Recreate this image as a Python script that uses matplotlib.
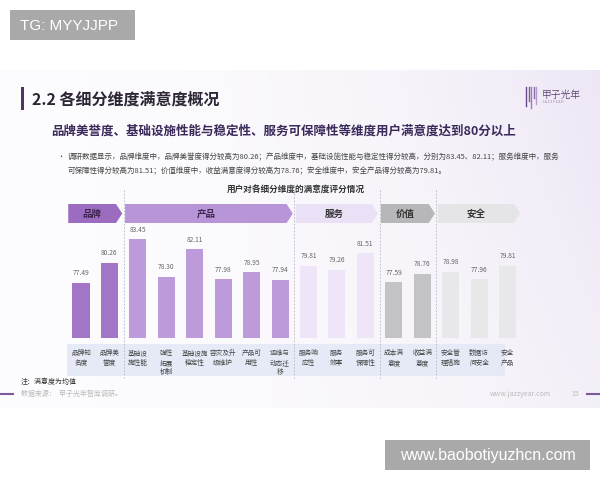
import matplotlib
matplotlib.use('Agg')
import matplotlib.pyplot as plt
import numpy as np
from matplotlib.patches import Polygon, Rectangle
from matplotlib.transforms import blended_transform_factory

plt.rcParams['font.family'] = ['Noto Sans CJK SC', 'DejaVu Sans']

# ---------------- data ----------------
groups = ['品牌', '产品', '服务', '价值', '安全']
group_sizes = [2, 6, 3, 2, 3]
categories = ['品牌知\n名度', '品牌美\n誉度', '基础设\n施性能', '弹性\n拓展\n机制', '基础设施\n稳定性',
              '容灾及升\n级维护', '产品可\n用性', '运维与\n动态迁\n移', '服务响\n应性', '服务\n效率',
              '服务可\n保障性', '成本满\n意度', '收益满\n意度', '安全管\n理措施', '数据访\n问安全', '安全\n产品']
values = [77.49, 80.26, 83.45, 78.30, 82.11, 77.98, 78.95, 77.94,
          79.81, 79.26, 81.51, 77.59, 78.76, 78.98, 77.96, 79.81]

title = '2.2 各细分维度满意度概况'
subtitle = '品牌美誉度、基础设施性能与稳定性、服务可保障性等维度用户满意度达到80分以上'
bullet1 = '调研数据显示，品牌维度中，品牌美誉度得分较高为80.26；产品维度中，基础设施性能与稳定性得分较高，分别为83.45、82.11；服务维度中，服务'
bullet2 = '可保障性得分较高为81.51；价值维度中，收益满意度得分较高为78.76；安全维度中，安全产品得分较高为79.81。'
chart_title = '用户对各细分维度的满意度评分情况'

# ---------------- styles ----------------
bar_colors = ['#a375c6', '#bd9bdb', '#eee6f8', '#c3c3c5', '#e8e8ea']
header_colors = ['#9b6cc0', '#b795d7', '#eae1f6', '#b7b7b9', '#e5e5e7']
header_text = ['#40264f', '#40264f', '#333333', '#333333', '#333333']

W, H = 600, 480
fig = plt.figure(figsize=(6, 4.8), dpi=100)
fig.patch.set_facecolor('white')

bg = fig.add_axes([0, 0, 1, 1])
bg.axis('off')

# slide background gradient
nx, ny = 240, 120
gx = np.linspace(0, 1, nx)
gy = np.linspace(0, 1, ny)
X, Y = np.meshgrid(gx, gy)
t = np.clip(0.75 * X ** 2.5 * (1 - 0.5 * Y) + 0.15 * X, 0, 1)
c0 = np.array([0.99, 0.988, 0.995])
c1 = np.array([0.925, 0.895, 0.955])
img = c0 + (c1 - c0) * t[..., None]
bg.imshow(img, extent=(0, 600, 408, 70), aspect='auto', zorder=0, interpolation='bilinear')
bg.set_xlim(0, W)
bg.set_ylim(H, 0)

# ---------------- bar axes ----------------
x0_px, w_px, base_px, h_px = 66.8, 454.9, 337.5, 116.8
ax = fig.add_axes([x0_px / W, (H - base_px) / H, w_px / W, h_px / H])
ax.patch.set_alpha(0)
n = len(values)
xi = np.arange(n)
cols = np.repeat(bar_colors, group_sizes)
bars = ax.bar(xi, values, width=0.6, color=cols, zorder=3)
ax.set_xlim(-0.5, n - 0.5)
ax.set_ylim(70, 86)
for s in ax.spines.values():
    s.set_visible(False)
ax.set_yticks([])
ax.set_xticks(xi)
ax.set_xticklabels(categories, fontsize=4.8, color='#444444', linespacing=1.25)
ax.tick_params(axis='x', length=0, pad=8.5)
ax.bar_label(bars, labels=[f'{v:.2f}' for v in values], padding=4, fontsize=4.8, color='#666666')

trans = blended_transform_factory(ax.transData, bg.transData)

# label band
bg.add_patch(Rectangle((-0.5, 344), n - 0.6, 32, transform=trans, facecolor='#e4e9f6',
                       edgecolor='none', alpha=0.9, zorder=1))

# header arrows and separators
starts = np.concatenate([[0], np.cumsum(group_sizes)[:-1]])
tip = 0.22
for g, (s, k) in enumerate(zip(starts, group_sizes)):
    xs = s - 0.45
    xe = s + k - 1 + 0.45
    pts = [(xs, 204), (xe - tip, 204), (xe, 213.5), (xe - tip, 223), (xs, 223)]
    bg.add_patch(Polygon(pts, closed=True, transform=trans, facecolor=header_colors[g],
                         edgecolor='none', zorder=2))
    bg.text((xs + xe - tip) / 2, 213.5, groups[g], transform=trans, ha='center', va='center',
            fontsize=6.8, fontweight='bold', color=header_text[g], zorder=3)
    if s > 0:
        bg.plot([s - 0.5, s - 0.5], [190, 378], transform=trans, color='#b5b5c5', lw=0.6,
                linestyle=(0, (2, 2)), zorder=1)

# ---------------- texts ----------------
# TG box
bg.add_patch(Rectangle((10, 10), 125, 30, facecolor='#a9a9a9', edgecolor='none', zorder=5))
bg.text(20, 25.5, 'TG: MYYJJPP', fontsize=11, color='white', va='center', ha='left',
        family=['Liberation Sans', 'DejaVu Sans'], zorder=6)
# bottom box
bg.add_patch(Rectangle((385, 440), 205, 30, facecolor='#a9a9a9', edgecolor='none', zorder=5))
bg.text(487.5, 455.5, 'www.baobotiyuzhcn.com', fontsize=11.5, color='white', va='center',
        ha='center', family=['Liberation Sans', 'DejaVu Sans'], zorder=6)

# title
bg.add_patch(Rectangle((21, 87), 3, 23, facecolor='#4e3566', edgecolor='none', zorder=4))
bg.text(31.5, 99.5, title, fontsize=11.5, color='#2d2535', va='center', ha='left',
        fontweight='bold', zorder=4)
bg.text(284, 131.5, subtitle, fontsize=9, color='#3b2a5a', va='center', ha='center',
        fontweight='bold', zorder=4)
bg.text(57, 157, '•', fontsize=5, color='#444444', va='center', ha='left', zorder=4)
bg.text(67.7, 157, bullet1, fontsize=5.4, color='#444444', va='center', ha='left', zorder=4)
bg.text(67.7, 171, bullet2, fontsize=5.4, color='#444444', va='center', ha='left', zorder=4)
bg.text(296, 189, chart_title, fontsize=6.2, color='#333333', va='center', ha='center',
        fontweight='bold', zorder=4)

# logo
for i, (yy, c) in enumerate(zip([106, 101, 108, 98, 104], ['#6b4a8a', '#7d5a9c', '#9b7bb8', '#8a6aa8', '#b39ccc'])):
    xx = 526 + i * 2.6
    bg.plot([xx, xx], [87, yy], color=c, lw=1.0, zorder=4)
bg.text(542, 94.5, '甲子光年', fontsize=7, color='#5a3f73', va='center', ha='left',
        family=['Noto Serif CJK SC', 'Noto Sans CJK SC', 'DejaVu Sans'], zorder=4)
bg.text(542, 102, 'J A Z Z Y E A R', fontsize=2.5, color='#9a88ad', va='center', ha='left', zorder=4)

# footer
bg.text(20.7, 382.3, '注：满意度为均值', fontsize=5, color='#333333', va='center', ha='left', zorder=4)
bg.text(20.7, 394.3, '数据来源：  甲子光年智库调研。', fontsize=5, color='#bbbbbb', va='center', ha='left', zorder=4)
bg.plot([0, 12.7], [393.5, 393.5], color='#7a5a9a', lw=1.5, zorder=4)
bg.text(490, 394.3, 'www.jazzyear.com', fontsize=5, color='#bbbbbb', va='center', ha='left', zorder=4)
bg.text(571, 394.3, '15', fontsize=5, color='#bbbbbb', va='center', ha='left', zorder=4)
bg.plot([587, 600], [393.5, 393.5], color='#7a5a9a', lw=1.5, zorder=4)

fig.savefig('out.png', dpi=100, facecolor='white')
